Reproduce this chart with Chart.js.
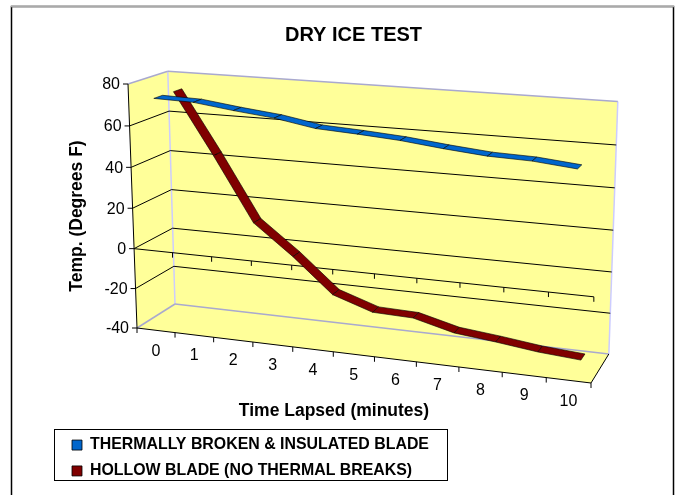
<!DOCTYPE html>
<html>
<head>
<meta charset="utf-8">
<title>Dry ice test</title>
<style>
html, body { margin: 0; padding: 0; background: #fff; overflow: hidden; }
canvas { display: block; }
</style>
<script src="https://cdn.jsdelivr.net/npm/chart.js@4"></script>
</head>
<body>
<canvas id="chart" width="676" height="495"></canvas>
<script>
const minutes = ["0", "1", "2", "3", "4", "5", "6", "7", "8", "9", "10"];
const insulatedBlade = [72.9, 72.4, 69.9, 67.8, 64.4, 63.3, 61.9, 59.7, 57.9, 57.3, 55.4];
const hollowBlade = [72.8, 42.8, 11.1, -3.9, -20.9, -27.5, -28.1, -33.2, -35.3, -37.8, -39.3];
const tempTicks = [-40, -20, 0, 20, 40, 60, 80];

// corners of the 3d box on the page, and how much each axis shrinks with distance
const boxO = [137, 328], boxU = [591, 383], boxV = [128, 84], boxW = [175, 304];
const persp = [-0.086, -0.036, 0.05];
const depths = [[0.14, 0.36], [0.64, 0.86]];
const font = '"Liberation Sans", Arial, sans-serif';

function project(u, v, w) {
    const d = 1 + persp[0] * u + persp[1] * v + persp[2] * w;
    return [0, 1].map(i => {
        const n = boxO[i]
            + u * ((1 + persp[0]) * boxU[i] - boxO[i])
            + v * ((1 + persp[1]) * boxV[i] - boxO[i])
            + w * ((1 + persp[2]) * boxW[i] - boxO[i]);
        return n / d;
    });
}

function poly(ctx, pts) {
    ctx.beginPath();
    pts.forEach((p, i) => i ? ctx.lineTo(p[0], p[1]) : ctx.moveTo(p[0], p[1]));
}

function line(ctx, a, b, color, width) {
    ctx.strokeStyle = color;
    ctx.lineWidth = width || 1;
    poly(ctx, [a, b]);
    ctx.stroke();
}

const box3d = {
    id: "box3d",
    afterLayout(chart) {
        // title spans the whole page, legend sits in its own box
        chart.titleBlock.left = 31;
        chart.titleBlock.right = 676;
        chart.titleBlock.top = 13;
        chart.titleBlock.bottom = 38;
        const h = chart.legend.height;
        chart.legend.left = 62;
        chart.legend.right = 447;
        chart.legend.top = 458 - h / 2;
        chart.legend.bottom = chart.legend.top + h;
    },
    beforeDraw(chart) {
        const ctx = chart.ctx;
        ctx.save();
        ctx.fillStyle = "#fff";
        ctx.fillRect(0, 0, 676, 495);
        ctx.strokeStyle = "#000";
        ctx.lineWidth = 1.5;
        ctx.strokeRect(11.5, 6.5, 662, 500);
        line(ctx, [11, 6.5], [674, 6.5], "#aaa", 1.5);
        ctx.lineWidth = 1;
        ctx.strokeStyle = "#000";
        ctx.strokeRect(54.5, 429.5, 393, 51);
        ctx.restore();
    },
    afterDatasetsDraw(chart) {
        const ctx = chart.ctx, xs = chart.scales.x, ys = chart.scales.y;
        const uOf = px => (px - xs.left) / xs.width;
        const vOf = py => (ys.bottom - py) / ys.height;
        const vVal = t => vOf(ys.getPixelForValue(t));
        ctx.save();

        // walls and floor
        ctx.fillStyle = "#ffff99";
        poly(ctx, [project(0, 0, 0), project(0, 1, 0), project(0, 1, 1), project(1, 1, 1), project(1, 0, 1), project(1, 0, 0)]);
        ctx.closePath();
        ctx.fill();

        // wall edges
        const edge = "#a9a9cf", corner = "#ccccff";
        line(ctx, project(0, 1, 1), project(0, 0, 1), corner, 1.5);
        line(ctx, project(1, 1, 1), project(1, 0, 1), corner, 1.5);
        line(ctx, project(0, 1, 0), project(0, 1, 1), edge, 1.5);
        line(ctx, project(0, 1, 1), project(1, 1, 1), edge, 1.5);
        line(ctx, project(0, 0, 0), project(0, 0, 1), edge, 1.5);
        line(ctx, project(0, 0, 1), project(1, 0, 1), edge, 1.5);

        // gridlines
        tempTicks.slice(1, -1).forEach(t => {
            const v = vVal(t);
            line(ctx, project(0, v, 0), project(0, v, 1), "#000");
            line(ctx, project(0, v, 1), project(1, v, 1), "#000");
        });

        // front edges and axis lines
        line(ctx, project(0, 0, 0), project(0, 1, 0), "#000");
        line(ctx, project(0, 0, 0), project(1, 0, 0), "#000");
        line(ctx, project(1, 0, 0), project(1, 0, 1), "#000");
        const v0 = vVal(0);
        line(ctx, project(0, v0, 0), project(1, v0, 0), "#000");

        ctx.font = "16px " + font;
        ctx.fillStyle = "#000";

        // temperature ticks
        ctx.textAlign = "right";
        ctx.textBaseline = "middle";
        tempTicks.forEach(t => {
            const p = project(0, vVal(t), 0);
            line(ctx, [p[0] - 5, p[1]], p, "#000");
            ctx.fillText(String(t), p[0] - 8, p[1] + 1);
        });

        // minute ticks on floor edge and on the zero line
        for (let i = 0; i <= minutes.length; i++) {
            const u = i / minutes.length;
            const a = project(u, 0, 0), b = project(u, v0, 0);
            line(ctx, a, [a[0], a[1] + 5], "#000");
            if (i > 0) line(ctx, b, [b[0], b[1] + 5], "#000");
        }
        ctx.textAlign = "center";
        minutes.forEach((m, i) => {
            const p = project(uOf(xs.getPixelForValue(i)), 0, 0);
            ctx.fillText(m, p[0], p[1] + 21);
        });

        // ribbons, back one first
        [1, 0].forEach(s => {
            const meta = chart.getDatasetMeta(s);
            const data = chart.data.datasets[s].data;
            const [wf, wb] = depths[s];
            const pts = data.map((val, i) => [uOf(xs.getPixelForValue(i)), vOf(ys.getPixelForValue(val))]);
            for (let i = 0; i < pts.length - 1; i++) {
                const a = pts[i], b = pts[i + 1];
                poly(ctx, [project(a[0], a[1], wf), project(a[0], a[1], wb), project(b[0], b[1], wb), project(b[0], b[1], wf)]);
                ctx.closePath();
                ctx.fillStyle = meta.dataset.options.backgroundColor;
                ctx.fill();
                ctx.strokeStyle = "#000";
                ctx.lineWidth = 0.6;
                ctx.stroke();
            }
        });

        // axis titles
        ctx.fillStyle = "#000";
        ctx.font = "bold 17.5px " + font;
        ctx.textAlign = "center";
        ctx.fillText(xs.options.title.text, 334, 411);
        ctx.translate(77, 216);
        ctx.rotate(-Math.PI / 2);
        ctx.fillText(ys.options.title.text, 0, 0);
        ctx.restore();
    }
};

new Chart(document.getElementById("chart"), {
    type: "line",
    data: {
        labels: minutes,
        datasets: [{
            label: "THERMALLY BROKEN & INSULATED BLADE",
            data: insulatedBlade,
            backgroundColor: "#0066cc",
            borderColor: "#000",
            borderWidth: 0,
            showLine: false,
            pointRadius: 0
        }, {
            label: "HOLLOW BLADE (NO THERMAL BREAKS)",
            data: hollowBlade,
            backgroundColor: "#800000",
            borderColor: "#000",
            borderWidth: 0,
            showLine: false,
            pointRadius: 0
        }]
    },
    options: {
        responsive: false,
        animation: false,
        layout: { padding: { left: 54, right: 229 } },
        scales: {
            x: { display: false, offset: true, title: { text: "Time Lapsed (minutes)" } },
            y: { display: false, min: -40, max: 80, title: { text: "Temp. (Degrees F)" } }
        },
        plugins: {
            title: {
                display: true,
                text: "DRY ICE TEST",
                color: "#000",
                font: { family: font, size: 20, weight: "bold" }
            },
            legend: {
                position: "bottom",
                align: "start",
                labels: {
                    color: "#000",
                    font: { family: font, size: 15.9, weight: "bold" },
                    boxWidth: 10,
                    boxHeight: 10,
                    padding: 10,
                    generateLabels: chart => chart.data.datasets.map((d, i) => ({
                        text: d.label,
                        fillStyle: d.backgroundColor,
                        strokeStyle: "#000",
                        lineWidth: 0.8,
                        datasetIndex: i
                    }))
                }
            },
            tooltip: { enabled: false }
        }
    },
    plugins: [box3d]
});
</script>
</body>
</html>
